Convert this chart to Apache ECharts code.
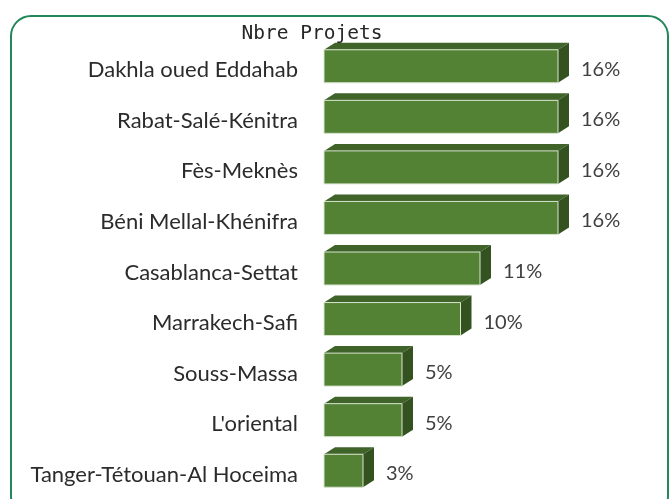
<!DOCTYPE html>
<html><head><meta charset="utf-8">
<script src="https://cdn.jsdelivr.net/npm/echarts@6/dist/echarts.min.js"></script>
<style>html,body{margin:0;padding:0;background:#fff}#c{width:671px;height:499px}</style>
</head><body><div id="c"></div>
<script>
// Data (project counts; labels show share of total)
const categories = ["Dakhla oued Eddahab","Rabat-Salé-Kénitra","Fès-Meknès","Béni Mellal-Khénifra","Casablanca-Settat","Marrakech-Safi","Souss-Massa","L'oriental","Tanger-Tétouan-Al Hoceima"];
const projectCounts = [12,12,12,12,8,7,4,4,2];
const titleText = "Nbre Projets";

const total = projectCounts.reduce((a,b)=>a+b,0);
const chart = echarts.init(document.getElementById('c'), null, {renderer:'canvas'});
const DX = 11, DY = 7, H = 33;
chart.setOption({
  animation:false,
  title:{text:titleText,left:307,top:19,textAlign:'center',textStyle:{fontFamily:'DejaVu Sans Mono',fontSize:19.5,fontWeight:'normal',color:'#262626'}},
  graphic:[{type:'rect',shape:{x:11,y:16,width:657,height:500,r:20},style:{fill:'none',stroke:'#23875a',lineWidth:2},z:-1}],
  grid:{left:324,right:35,top:41,height:455,containLabel:false},
  xAxis:{type:'value',min:0,max:16,show:false},
  yAxis:{type:'category',inverse:true,data:categories,axisLine:{show:false},axisTick:{show:false},
    axisLabel:{margin:26,color:'#2b2b2b',formatter:function(v){return '{a|'+v+'}';},
      rich:{a:{fontFamily:'Lato',fontSize:22,color:'#2b2b2b',padding:[8,0,0,0]}}}},
  series:[{type:'custom',
    data:projectCounts.map((v,i)=>[v,i]),
    encode:{x:0,y:1},
    renderItem:function(params,api){
      const v=api.value(0), i=api.value(1);
      const p0=api.coord([0,i]), p1=api.coord([v,i]);
      const x0=p0[0], x1=p1[0], yc=p0[1];
      const yt=yc-H/2, yb=yc+H/2;
      const pct=Math.round(v/total*100)+'%';
      return {type:'group',children:[
        {type:'polygon',shape:{points:[[x0,yt],[x0+DX,yt-DY],[x1+DX,yt-DY],[x1,yt]]},style:{fill:'#3f6328'}},
        {type:'polygon',shape:{points:[[x1,yt],[x1+DX,yt-DY],[x1+DX,yb-DY],[x1,yb]]},style:{fill:'#34521f'}},
        {type:'rect',shape:{x:x0,y:yt,width:x1-x0,height:H},style:{fill:'#548235',stroke:'#d8e4cf',lineWidth:1}},
        {type:'text',style:{x:x1+DX+12,y:yc+3,text:pct,textAlign:'left',textVerticalAlign:'middle',fontFamily:'Lato',fontSize:20,fill:'#404040'}}
      ]};
    }
  }]
});
</script></body></html>
